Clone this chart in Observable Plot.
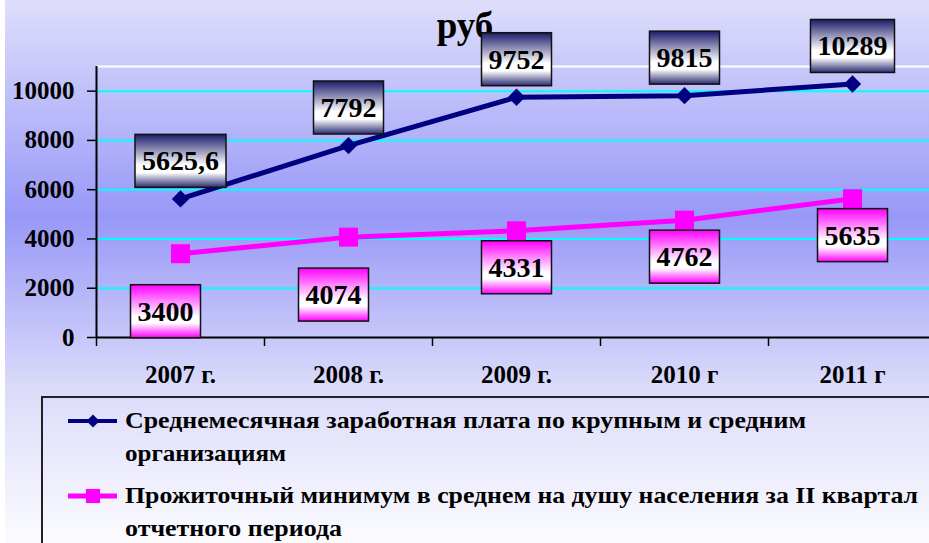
<!DOCTYPE html>
<html>
<head>
<meta charset="utf-8">
<script src="https://cdn.jsdelivr.net/npm/d3@7"></script>
<script src="https://cdn.jsdelivr.net/npm/@observablehq/plot@0.6"></script>
<style>
  html, body { margin: 0; padding: 0; background: #ffffff; overflow: hidden; }
  svg.chart { display: block; background: none !important; max-width: none !important; }
</style>
</head>
<body>
<script>
// ---- data ----
const years = ["2007 г.", "2008 г.", "2009 г.", "2010 г", "2011 г"];
const wage = [5625.6, 7792, 9752, 9815, 10289];
const minimum = [3400, 4074, 4331, 4762, 5635];
const yTicks = [0, 2000, 4000, 6000, 8000, 10000];
const yMax = 11000;
const unit = "руб";
const legendWage = ["Среднемесячная заработная плата по крупным и средним", "организациям"];
const legendMin = ["Прожиточный минимум в среднем на душу населения за II квартал", "отчетного периода"];

// ---- build tables ----
const fmt = v => String(v).replace(".", ",");
const wageRows = years.map((year, i) => ({year, value: wage[i], label: fmt(wage[i])}));
const minRows = years.map((year, i) => ({year, value: minimum[i], label: fmt(minimum[i])}));

const W = 929, H = 543;
const xRange = [96, 936];
const half = (xRange[1] - xRange[0]) / years.length / 2;
const navy = "#000080", magenta = "#ff00ff";
const serif = "'Liberation Serif', 'Times New Roman', serif";

const chart = Plot.plot({
  width: W,
  height: H,
  marginTop: 66,
  marginBottom: 206,
  marginLeft: 96,
  marginRight: 0,
  className: "chart",
  style: {fontFamily: serif, fontWeight: "bold", color: "black", background: "none", overflow: "hidden"},
  x: {type: "band", domain: years, range: xRange, padding: 0, label: null},
  y: {domain: [0, yMax], label: null},
  marks: [
    Plot.ruleY(yTicks.filter(v => v > 0), {stroke: "#00ffff", strokeWidth: 2}),
    Plot.ruleY([yMax], {stroke: "#ffffff", strokeWidth: 2}),
    Plot.ruleX([years[0]], {x: d => d, dx: -half, y1: 0, y2: yMax, stroke: "black", strokeWidth: 2}),
    Plot.ruleX(years, {x: d => d, dx: -half, y1: 0, y2: 0, insetBottom: -9, stroke: "black", strokeWidth: 1.5}),
    Plot.ruleY([0], {stroke: "black", strokeWidth: 2}),
    Plot.axisY({ticks: yTicks, tickSize: 9, tickPadding: 13, tickFormat: d => String(d), fontSize: 25, fontWeight: "bold", strokeWidth: 1.5, label: null}),
    Plot.axisX({tickSize: 0, tickPadding: 28, fontSize: 25, fontWeight: "bold", label: null}),
    Plot.line(wageRows, {x: "year", y: "value", stroke: navy, strokeWidth: 5}),
    Plot.dot(wageRows, {x: "year", y: "value", symbol: "diamond2", r: 7.8, fill: navy, stroke: "none"}),
    Plot.line(minRows, {x: "year", y: "value", stroke: magenta, strokeWidth: 5}),
    Plot.dot(minRows, {x: "year", y: "value", symbol: "square", r: 10.7, fill: magenta, stroke: "none"}),
    Plot.text(wageRows, {x: "year", y: "value", text: "label", dy: -37.5, fontSize: 28, fontWeight: "bold", fill: "black", ariaDescription: "wage-labels"}),
    Plot.text(minRows.slice(0, 2), {x: "year", y: "value", text: "label", dx: -15, dy: 58, fontSize: 28, fontWeight: "bold", fill: "black", ariaDescription: "min-labels-a"}),
    Plot.text(minRows.slice(2), {x: "year", y: "value", text: "label", dy: 37, fontSize: 28, fontWeight: "bold", fill: "black", ariaDescription: "min-labels-b"})
  ]
});

document.body.append(chart);

const svg = d3.select(chart);
const defs = svg.insert("defs", ":first-child");

// background gradient
const bg = defs.append("linearGradient").attr("id", "bgGrad").attr("x1", 0).attr("y1", 0).attr("x2", 0).attr("y2", 1);
[[0, "#dedefb"], [0.4, "#9898f8"], [0.72, "#dcdcfa"], [1, "#fbfbff"]].forEach(([o, c]) => bg.append("stop").attr("offset", o).attr("stop-color", c));

const gBlue = defs.append("linearGradient").attr("id", "boxBlue").attr("x1", 0).attr("y1", 0).attr("x2", 0).attr("y2", 1);
[[0, "#1c1c6a"], [0.58, "#ffffff"], [0.72, "#ffffff"], [1, "#2a2a72"]].forEach(([o, c]) => gBlue.append("stop").attr("offset", o).attr("stop-color", c));
const gPink = defs.append("linearGradient").attr("id", "boxPink").attr("x1", 0).attr("y1", 0).attr("x2", 0).attr("y2", 1);
[[0, "#ff00ff"], [0.6, "#ffffff"], [0.72, "#ffffff"], [1, "#ff00ff"]].forEach(([o, c]) => gPink.append("stop").attr("offset", o).attr("stop-color", c));

svg.insert("rect", "defs + *").attr("x", 5).attr("y", 0).attr("width", W - 5).attr("height", H).attr("fill", "url(#bgGrad)");

// title (under the label boxes)
const NS = "http://www.w3.org/2000/svg";
const firstLabels = chart.querySelector('g[aria-description="wage-labels"]');
const title = document.createElementNS(NS, "text");
title.setAttribute("x", 465);
title.setAttribute("y", 38);
title.setAttribute("text-anchor", "middle");
title.setAttribute("font-size", 37);
title.setAttribute("font-weight", "bold");
title.setAttribute("font-family", serif);
title.setAttribute("fill", "black");
title.textContent = unit;
if (firstLabels) chart.insertBefore(title, firstLabels); else chart.appendChild(title);

// label boxes
function boxes(aria, grad) {
  chart.querySelectorAll(`g[aria-description="${aria}"] text`).forEach(function (el) {
    const b = el.getBBox();
    const cx = b.x + b.width / 2, cy = b.y + b.height / 2;
    const w = b.width + 14, h = 53;
    const r = document.createElementNS(NS, "rect");
    r.setAttribute("x", cx - w / 2);
    r.setAttribute("y", cy - h / 2);
    r.setAttribute("width", w);
    r.setAttribute("height", h);
    r.setAttribute("fill", `url(#${grad})`);
    r.setAttribute("stroke", "#111111");
    r.setAttribute("stroke-width", 1.5);
    const t = el.getAttribute("transform");
    if (t) r.setAttribute("transform", t);
    el.parentNode.insertBefore(r, el);
  });
}
boxes("wage-labels", "boxBlue");
boxes("min-labels-a", "boxPink");
boxes("min-labels-b", "boxPink");

// legend
const lg = svg.append("g").attr("font-family", serif).attr("font-weight", "bold").attr("font-size", 24).attr("fill", "black").attr("text-anchor", "start");
lg.append("path").attr("d", `M42,${H + 5}V397H${W + 5}`).attr("fill", "none").attr("stroke", "#222222").attr("stroke-width", 2);
function legendItem(y, color, symbol, size, lw, lines, lens, ys) {
  lg.append("line").attr("x1", 68).attr("x2", 117).attr("y1", y).attr("y2", y).attr("stroke", color).attr("stroke-width", lw);
  lg.append("path").attr("transform", `translate(93,${y})`).attr("d", d3.symbol(symbol, size)()).attr("fill", color);
  lines.forEach((line, i) => {
    lg.append("text").attr("x", 125).attr("y", ys[i]).attr("textLength", lens[i]).attr("lengthAdjust", "spacingAndGlyphs").text(line);
  });
}
legendItem(421, navy, d3.symbolDiamond2, 110, 4, legendWage, [681, 161], [428, 461]);
legendItem(496, magenta, d3.symbolSquare, 200, 5, legendMin, [793, 217], [503, 536]);
</script>
</body>
</html>
